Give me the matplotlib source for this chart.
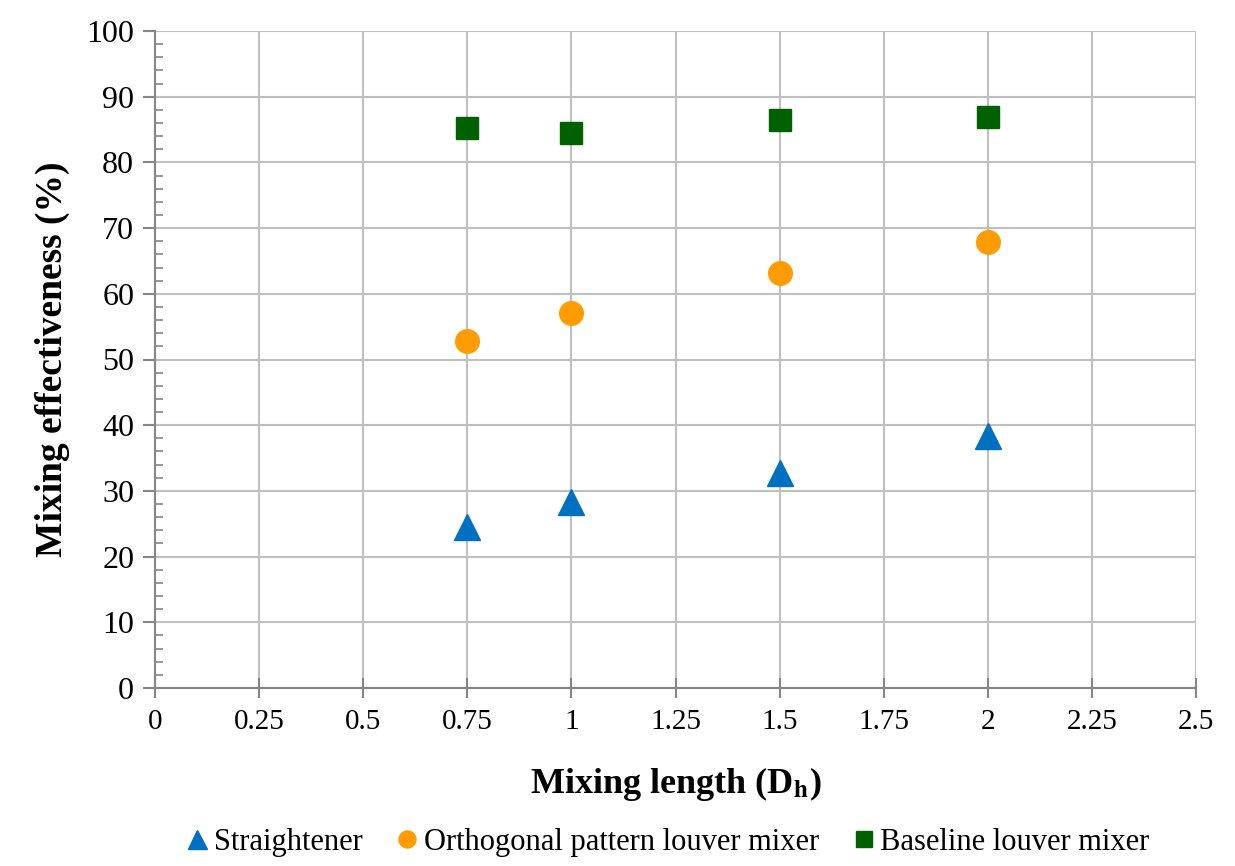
import matplotlib
matplotlib.use("Agg")
import matplotlib.pyplot as plt
from matplotlib.ticker import MultipleLocator

plt.rcParams['font.family'] = 'Liberation Serif'
plt.rcParams['mathtext.fontset'] = 'stix'

# Data
mixing_length = [0.75, 1.0, 1.5, 2.0]
straightener = [24.5, 28.3, 32.8, 38.3]
orthogonal = [52.8, 57.1, 63.1, 67.9]
baseline = [85.3, 84.4, 86.4, 86.9]

x_ticks = [0, 0.25, 0.5, 0.75, 1, 1.25, 1.5, 1.75, 2, 2.25, 2.5]
x_labels = ["0", "0.25", "0.5", "0.75", "1", "1.25", "1.5", "1.75", "2", "2.25", "2.5"]

fig = plt.figure(figsize=(12.35, 8.66), dpi=100)
ax = fig.add_axes([155/1235, 1 - 688/866, (1196-155)/1235, (688-31)/866])

ax.plot(mixing_length, straightener, linestyle='none', marker='^', markersize=19,
        color='#0070C0', label='Straightener')
ax.plot(mixing_length, orthogonal, linestyle='none', marker='o', markersize=17,
        color='#FF9C00', label='Orthogonal pattern louver mixer')
ax.plot(mixing_length, baseline, linestyle='none', marker='s', markersize=16,
        color='#006100', label='Baseline louver mixer')

ax.set_xlim(0, 2.5)
ax.set_ylim(0, 100)
ax.set_xticks(x_ticks)
ax.set_xticklabels(x_labels)
ax.yaxis.set_major_locator(MultipleLocator(10))
ax.yaxis.set_minor_locator(MultipleLocator(2))

ax.grid(True, which='major', color='#bfbfbf', linewidth=1.5)
ax.set_axisbelow(True)
for side in ['top', 'right']:
    ax.spines[side].set_visible(False)
for side in ['left', 'bottom']:
    ax.spines[side].set_color('#868686')
    ax.spines[side].set_linewidth(1.5)

ax.tick_params(axis='y', which='major', direction='out', length=9, width=1.5,
               color='#868686', labelsize=23, pad=6)
ax.tick_params(axis='y', which='minor', direction='in', length=6, width=1.2,
               color='#868686')
ax.tick_params(axis='x', which='major', direction='inout', length=14, width=1.5,
               color='#868686', labelsize=21, pad=8)

ax.set_ylabel("Mixing effectiveness (%)", fontsize=27, fontweight='bold', labelpad=12)
ax.set_xlabel(r"Mixing length (D$_{\mathbf{h}}$)", fontsize=26, fontweight='bold', labelpad=22)

ax.legend(loc='upper center', bbox_to_anchor=(0.49, -0.185), ncol=3, frameon=False,
          fontsize=22, handletextpad=0.0, columnspacing=0.9, markerscale=0.72,
          handlelength=1.1, borderaxespad=0.2)

fig.savefig("out.png", dpi=100)
